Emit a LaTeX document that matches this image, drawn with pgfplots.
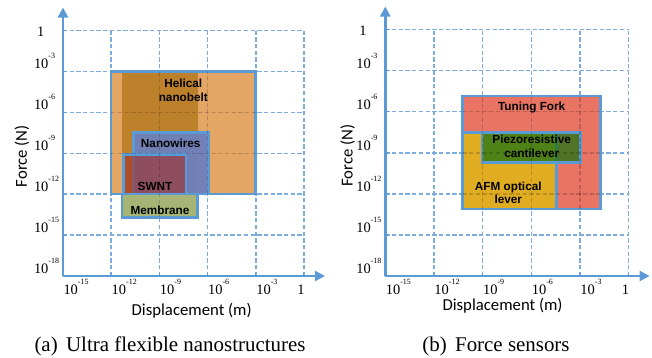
\documentclass[border=0pt]{standalone}
\usepackage{fontspec}
\setmainfont{Liberation Serif}
\newfontfamily\calibri{Carlito}
\newfontfamily\arialfont{Liberation Sans}
\usepackage{pgfplots}
\pgfplotsset{compat=1.18}
\usetikzlibrary{arrows.meta}
\definecolor{axblue}{RGB}{91,155,213}
\definecolor{gridblue}{RGB}{125,172,222}
\definecolor{helical}{RGB}{226,162,94}
\definecolor{darkreg}{RGB}{188,128,42}
\definecolor{membrane}{RGB}{166,180,118}
\definecolor{nanowires}{RGB}{108,128,190}
\definecolor{swnt}{RGB}{165,45,40}
\definecolor{tuning}{RGB}{232,110,94}
\definecolor{afm}{RGB}{224,175,32}
\definecolor{piezo}{RGB}{30,116,18}
\newcommand{\ticksize}{\fontsize{14.5}{16}\selectfont}
\newcommand{\labsize}{\calibri\fontsize{16.8}{19}\selectfont}
\newcommand{\boxfont}{\arialfont\bfseries\fontsize{11.8}{13.5}\selectfont}
\newcommand{\tl}[1]{10\raisebox{10bp}{\fontsize{8}{8}\selectfont#1}}
\tikzset{ovl/.style={black, opacity=0.17, line width=1.5bp, dash pattern=on 4.3bp off 2.4bp}}
\begin{document}
\begin{tikzpicture}
\useasboundingbox (0,0) rectangle (652bp,358bp);
% ---------------- (a) ----------------
\begin{axis}[
    scale only axis, anchor=south west, at={(63bp,82bp)}, width=241bp, height=245.5bp,
    xmode=log, ymode=log,
    xmin=1e-15, xmax=1, ymin=1e-18, ymax=1,
    axis lines=left,
    axis line style={line width=2.7bp, draw=axblue, -{Triangle[length=10bp,width=10bp]}},
    x axis line style={shorten >=-21bp},
    y axis line style={shorten >=-23bp},
    grid=major,
    major grid style={line width=1.5bp, draw=gridblue, dash pattern=on 4.3bp off 2.4bp},
    xtick={1e-15,1e-12,1e-9,1e-6,1e-3,1},
    ytick={1e-18,1e-15,1e-12,1e-9,1e-6,1e-3,1},
    xticklabels={\tl{-15},\tl{-12},\tl{-9},\tl{-6},\tl{-3},\llap{1\rule{0pt}{15.4bp}}},
    yticklabels={\tl{-18},\tl{-15},\tl{-12},\tl{-9},\tl{-6},\tl{-3},\smash{\hspace{3bp}\raisebox{-8.5bp}{1}}},
    xminorticks=false, yminorticks=false,
    tick align=inside, major tick length=3.5bp,
    tick style={draw=axblue, line width=1bp, solid},
    xticklabel style={anchor=north west, xshift=-3bp, font=\ticksize},
    yticklabel style={anchor=south west, xshift=-32.5bp, yshift=-1.2bp, font=\ticksize},
    xlabel={Displacement (m)}, ylabel={Force (N)},
    every axis x label/.style={at={(axis description cs:0.534,-0.141)}, anchor=center, font=\labsize},
    every axis y label/.style={at={(axis description cs:-0.170,0.488)}, rotate=90, anchor=center, font=\labsize}]
  % Helical nanobelt (fill)
  \addplot[fill=helical, fill opacity=0.96, draw=none] coordinates {(1e-12,1e-12) (1e-3,1e-12) (1e-3,1e-3) (1e-12,1e-3)} -- cycle;
  % darker inner band
  \addplot[fill=darkreg, fill opacity=0.96, draw=none] coordinates {(4.57e-12,1e-12) (2.4e-7,1e-12) (2.4e-7,1e-3) (4.57e-12,1e-3)} -- cycle;
  % Helical border
  \addplot[draw=axblue, line width=2.6bp] coordinates {(1e-12,1e-12) (1e-3,1e-12) (1e-3,1e-3) (1e-12,1e-3)} -- cycle;
  % Membrane
  \addplot[fill=membrane, draw=axblue, line width=2.6bp] coordinates {(4.57e-12,2e-14) (2.3e-7,2e-14) (2.3e-7,1e-12) (4.57e-12,1e-12)} -- cycle;
  % Nanowires
  \addplot[fill=nanowires, fill opacity=0.94, draw=axblue, line width=2.6bp] coordinates {(2.5e-11,1e-12) (1.12e-6,1e-12) (1.12e-6,3.16e-8) (2.5e-11,3.16e-8)} -- cycle;
  % SWNT
  \addplot[fill=swnt, fill opacity=0.6, draw=axblue, line width=2.6bp] coordinates {(5.6e-12,1e-12) (4.6e-8,1e-12) (4.6e-8,8.5e-10) (5.6e-12,8.5e-10)} -- cycle;
  % grid seen through the boxes
  \draw[ovl] (axis cs:1e-9,2e-14) -- (axis cs:1e-9,1e-3);
  \draw[ovl] (axis cs:1e-6,1e-12) -- (axis cs:1e-6,1e-3);
  \draw[ovl] (axis cs:1e-12,1e-9) -- (axis cs:1e-3,1e-9);
  \draw[ovl] (axis cs:1e-12,1e-6) -- (axis cs:1e-3,1e-6);
\end{axis}
% ---------------- (b) ----------------
\begin{axis}[
    scale only axis, anchor=south west, at={(385.3bp,82bp)}, width=243.3bp, height=246.5bp,
    xmode=log, ymode=log,
    xmin=1e-15, xmax=1, ymin=1e-18, ymax=1,
    axis lines=left,
    axis line style={line width=2.7bp, draw=axblue, -{Triangle[length=10bp,width=10bp]}},
    x axis line style={shorten >=-21bp},
    y axis line style={shorten >=-23bp},
    grid=major,
    major grid style={line width=1.5bp, draw=gridblue, dash pattern=on 4.3bp off 2.4bp},
    xtick={1e-15,1e-12,1e-9,1e-6,1e-3,1},
    ytick={1e-18,1e-15,1e-12,1e-9,1e-6,1e-3,1},
    xticklabels={\tl{-15},\tl{-12},\tl{-9},\tl{-6},\tl{-3},\llap{1\rule{0pt}{15.4bp}}},
    yticklabels={\tl{-18},\tl{-15},\tl{-12},\tl{-9},\tl{-6},\tl{-3},\smash{\hspace{3bp}\raisebox{-8.5bp}{1}}},
    xminorticks=false, yminorticks=false,
    tick align=inside, major tick length=3.5bp,
    tick style={draw=axblue, line width=1bp, solid},
    xticklabel style={anchor=north west, xshift=-3bp, font=\ticksize},
    yticklabel style={anchor=south west, xshift=-32.5bp, yshift=-1.2bp, font=\ticksize},
    xlabel={Displacement (m)}, ylabel={Force (N)},
    every axis x label/.style={at={(axis description cs:0.482,-0.120)}, anchor=center, font=\labsize},
    every axis y label/.style={at={(axis description cs:-0.155,0.488)}, rotate=90, anchor=center, font=\labsize}]
  % Tuning fork
  \addplot[fill=tuning, fill opacity=0.96, draw=axblue, line width=2.6bp] coordinates {(5.6e-11,7.9e-14) (1.78e-2,7.9e-14) (1.78e-2,1.41e-5) (5.6e-11,1.41e-5)} -- cycle;
  % AFM optical lever
  \addplot[fill=afm, fill opacity=0.96, draw=axblue, line width=2.6bp] coordinates {(5.6e-11,7.9e-14) (3.47e-5,7.9e-14) (3.47e-5,3.16e-8) (5.6e-11,3.16e-8)} -- cycle;
  % Piezoresistive cantilever
  \addplot[fill=piezo, fill opacity=0.75, draw=axblue, line width=2.6bp] coordinates {(8.9e-10,2e-10) (1.12e-3,2e-10) (1.12e-3,3.16e-8) (8.9e-10,3.16e-8)} -- cycle;
  % grid seen through the boxes
  \draw[ovl] (axis cs:1e-9,7.9e-14) -- (axis cs:1e-9,1.41e-5);
  \draw[ovl] (axis cs:1e-6,7.9e-14) -- (axis cs:1e-6,1.41e-5);
  \draw[ovl] (axis cs:1e-3,7.9e-14) -- (axis cs:1e-3,1.41e-5);
  \draw[ovl] (axis cs:5.6e-11,1e-12) -- (axis cs:1.78e-2,1e-12);
  \draw[ovl] (axis cs:5.6e-11,1e-9) -- (axis cs:1.78e-2,1e-9);
  \draw[ovl] (axis cs:5.6e-11,1e-6) -- (axis cs:1.78e-2,1e-6);
\end{axis}
% box labels
\node[font=\boxfont, align=center] at (183.3bp,267.7bp) {Helical\\nanobelt};
\node[font=\boxfont] at (170.7bp,214.7bp) {Nanowires};
\node[font=\boxfont] at (155bp,171.3bp) {SWNT};
\node[font=\boxfont] at (160bp,147.3bp) {Membrane};
\node[font=\boxfont] at (531.7bp,250.7bp) {Tuning Fork};
\node[font=\boxfont, align=center] at (531.7bp,211.7bp) {Piezoresistive\\cantilever};
\node[font=\boxfont, align=center] at (508.3bp,165bp) {AFM optical\\lever};
% captions
\node[anchor=base, font=\fontsize{21}{24}\selectfont] at (170bp,6.3bp) {(a)\hspace{0.4em}Ultra flexible nanostructures};
\node[anchor=base, font=\fontsize{21}{24}\selectfont] at (496bp,6.3bp) {(b)\hspace{0.4em}Force sensors};
\end{tikzpicture}
\end{document}
